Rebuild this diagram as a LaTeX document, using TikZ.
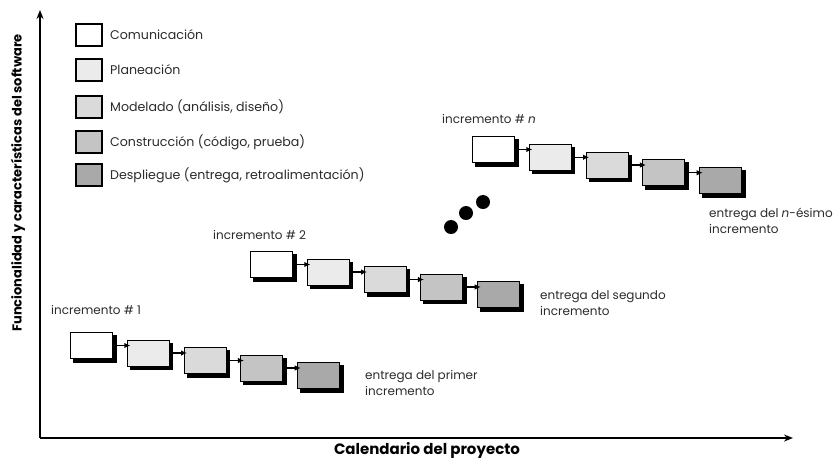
\documentclass[tikz,border=0pt]{standalone}
\usepackage{fontspec}
\setmainfont{Poppins}
\usetikzlibrary{arrows.meta}
\definecolor{fA}{HTML}{FFFFFF}
\definecolor{fB}{HTML}{EBEBEB}
\definecolor{fC}{HTML}{DADADA}
\definecolor{fD}{HTML}{C4C4C4}
\definecolor{fE}{HTML}{A9A9A9}
\definecolor{txt}{HTML}{2B2B2B}
\begin{document}
\begin{tikzpicture}[x=1pt,y=-1pt,
  phase/.style={draw=black, line width=1pt, minimum width=42pt, minimum height=26pt, inner sep=0pt},
  shadowfill/.style={fill=black},
  legbox/.style={draw=black, line width=1.1pt, minimum width=26pt, minimum height=22pt, inner sep=0pt},
  lbl/.style={anchor=west, text=txt, font=\fontsize{12}{16.5}\selectfont, inner sep=0pt, align=left},
  conn/.style={line width=1.1pt, -{Latex[length=6pt,width=5.5pt]}},
  axis/.style={line width=1.8pt, -{Stealth[length=9pt,width=7pt]}},
  dot/.style={circle, fill=black, minimum size=14pt, inner sep=0pt}]
\useasboundingbox (0,0) rectangle (838,467);
% axes
\coordinate (O) at (40,438);
\coordinate (Ytop) at (40,10);
\coordinate (Xend) at (793,438);
\draw[axis] (O) -- (Ytop);
\draw[axis] (O) -- (Xend);
\node[text=black, font=\fontsize{15}{18}\selectfont\bfseries, inner sep=0pt] (xl) at (427,450) {Calendario del proyecto};
\node[rotate=90, text=black, font=\fontsize{13}{15}\selectfont\bfseries, inner sep=0pt] (yl) at (18,183) {Funcionalidad y características del software};
% legend
\foreach \y/\c/\t [count=\i] in {35/fA/Comunicación, 70/fB/Planeación, 107/fC/{Modelado (análisis, diseño)}, 142/fD/{Construcción (código, prueba)}, 175/fE/{Despliegue (entrega, retroalimentación)}}{
  \node[legbox, fill=\c] (L\i) at (89,\y) {};
  \node[lbl, font=\fontsize{12.6}{16.5}\selectfont] (LT\i) at (110,\y) {\t};
}
% increments
\foreach \nm/\xo/\yo/\dy in {a/70/332/7.5, b/250/251/7.5, c/472/136/7.75}{
  \foreach \c [count=\k from 0] in {fA,fB,fC,fD,fE}{
    \node[phase, fill=\c] (\nm\k) at ({\xo+21.5+56.8*\k},{\yo+13.5+\dy*\k}) {};
    \fill[shadowfill] ([shift={(0,3)}]\nm\k.north east) rectangle ([shift={(3.5,3.5)}]\nm\k.south east);
    \fill[shadowfill] ([shift={(3,0)}]\nm\k.south west) rectangle ([shift={(3.5,3.5)}]\nm\k.south east);
  }
  \foreach \k [evaluate=\k as \kn using int(\k+1)] in {0,1,2,3}{
    \draw[conn] ([xshift=3.5pt]\nm\k.east) -- ([xshift=3.5pt]\nm\k.east -| \nm\kn.west);
  }
}
% labels
\node[lbl] (i1) at (51,310) {incremento \# 1};
\node[lbl] (i2) at (213,235) {incremento \# 2};
\node[lbl] (in) at (442,119) {incremento \# \textit{n}};
\node[lbl] (e1) at (365,383) {entrega del primer\\incremento};
\node[lbl] (e2) at (540,303) {entrega del segundo\\incremento};
\node[lbl] (en) at (709,221) {entrega del \textit{n}-ésimo\\incremento};
% dots
\node[dot] (d1) at (451,227) {};
\node[dot] (d2) at (466,213) {};
\node[dot] (d3) at (483,202) {};
\end{tikzpicture}
\end{document}
